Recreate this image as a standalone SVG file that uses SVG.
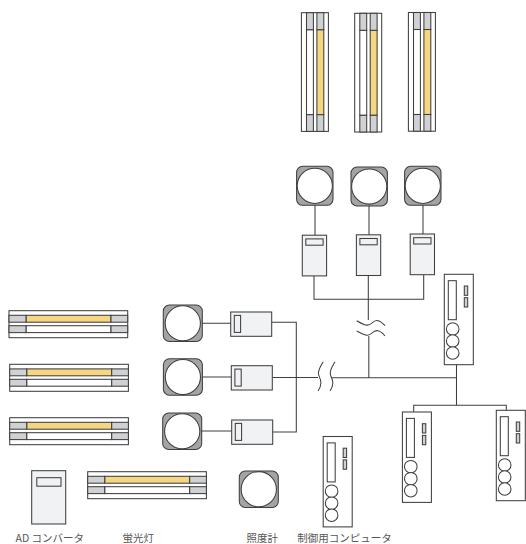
<svg xmlns="http://www.w3.org/2000/svg" width="526" height="544" viewBox="0 0 526 544">
<style>
.s{stroke:#3f3f41;stroke-width:1.05}
.l{fill:none;stroke:#3f3f41;stroke-width:1.05}
.w{fill:#fff}
.y{fill:#f6d680}
.c{fill:#d0d1d3}
.g{fill:#a3a4a6}
.a{fill:#f1f2f4}
text{font-family:"Noto Sans CJK JP","Noto Sans",sans-serif;font-size:10.500px;fill:#555}
</style>
<defs>
<g id="lamp">
<rect class="s w" x="0" y="0" width="118.700" height="27"/>
<rect class="s y" x="17" y="4.600" width="85" height="6.900"/>
<rect class="s c" x="0" y="4.600" width="17" height="6.900"/>
<rect class="s c" x="102" y="4.600" width="16.700" height="6.900"/>
<rect class="s w" x="17" y="15" width="85" height="6.900"/>
<rect class="s c" x="0" y="15" width="17" height="6.900"/>
<rect class="s c" x="102" y="15" width="16.700" height="6.900"/>
</g>
<g id="sensor">
<rect class="s g" x="-19.500" y="-18.200" width="39" height="36.400" rx="6"/>
<circle class="s w" r="17.600"/>
</g>
<g id="adv">
<rect class="s a" x="0" y="0" width="24.300" height="40.700"/>
<rect class="s a" x="3.500" y="3.700" width="17.300" height="6.300"/>
</g>
<g id="adh">
<rect class="s a" x="0" y="0" width="41" height="24.300"/>
<rect class="s a" x="3.600" y="3.400" width="6.300" height="17"/>
</g>
<g id="pc">
<rect class="s w" x="0" y="0" width="29" height="90.400"/>
<rect class="s w" x="4" y="6.400" width="8" height="39"/>
<rect class="s c" x="20" y="11.700" width="3.400" height="9.300"/>
<rect class="s c" x="20" y="23.400" width="3.400" height="9.300"/>
<circle class="s w" cx="8.400" cy="54.700" r="6.300"/>
<circle class="s w" cx="8.400" cy="66.700" r="6.300"/>
<circle class="s w" cx="8.400" cy="78.700" r="6.300"/>
</g>
</defs>
<g id="connectors">
<path class="l" d="M315 203V236M369 204V235M423 203V234"/>
<path class="l" d="M314 275.700V299.300H423.700V274.700M368.300 275.700V320"/>
<path class="l" d="M356.700 320.700C364 325 368 327 372 323S380 320 385 325.700"/>
<path class="l" d="M356.700 331C364 335 368 337 372 333S380 330 385 336"/>
<path class="l" d="M368.800 336V378"/>
<path class="l" d="M201 323.300H231M201 377H231.500M200 431H232"/>
<path class="l" d="M271.700 322.300H296.300V432H272.700"/>
<path class="l" d="M272.300 377.500H318"/>
<path class="l" d="M323.300 361.700C320 367 318 370 318.500 374S324 382 318 391"/>
<path class="l" d="M335 361.700C332 367 329.800 370 330.300 374S336 382 330 391"/>
<path class="l" d="M332 377.700H456.500"/>
<path class="l" d="M456.500 364.700V405.300M413.700 412V405.300H506.300V410.300"/>
</g>
<g id="lamp-v1"><use href="#lamp" transform="translate(328.400 12.700) rotate(90)"/></g>
<g id="lamp-v2"><use href="#lamp" transform="translate(381.700 13.300) rotate(90)"/></g>
<g id="lamp-v3"><use href="#lamp" transform="translate(435.400 12.500) rotate(90)"/></g>
<g id="sensor-v1"><use href="#sensor" transform="translate(314.800 185.800) rotate(90)"/></g>
<g id="sensor-v2"><use href="#sensor" transform="translate(369.200 186.500) rotate(90)"/></g>
<g id="sensor-v3"><use href="#sensor" transform="translate(422.800 185.800) rotate(90)"/></g>
<g id="ad-v1"><use href="#adv" transform="translate(302.300 235.200)"/></g>
<g id="ad-v2"><use href="#adv" transform="translate(356.400 234.800)"/></g>
<g id="ad-v3"><use href="#adv" transform="translate(410.200 234)"/></g>
<g id="lamp-h1"><use href="#lamp" transform="translate(9 310.700)"/></g>
<g id="lamp-h2"><use href="#lamp" transform="translate(9.700 364.300)"/></g>
<g id="lamp-h3"><use href="#lamp" transform="translate(9.700 417.700)"/></g>
<g id="sensor-h1"><use href="#sensor" transform="translate(182.800 323.300)"/></g>
<g id="sensor-h2"><use href="#sensor" transform="translate(182.900 377)"/></g>
<g id="sensor-h3"><use href="#sensor" transform="translate(182.200 431.300)"/></g>
<g id="ad-h1"><use href="#adh" transform="translate(230.700 312)"/></g>
<g id="ad-h2"><use href="#adh" transform="translate(231.300 365.700)"/></g>
<g id="ad-h3"><use href="#adh" transform="translate(231.700 420)"/></g>
<g id="pc-main"><use href="#pc" transform="translate(444.300 274.300)"/></g>
<g id="pc-left"><use href="#pc" transform="translate(402.400 412)"/></g>
<g id="pc-right"><use href="#pc" transform="translate(496.300 410.300)"/></g>
<g id="legend-ad"><rect class="s a" x="31.700" y="470.700" width="34" height="53.300"/><rect class="s a" x="36.800" y="477.700" width="24.200" height="8.500"/><text x="15.500" y="541.500">AD コンバータ</text></g>
<g id="legend-lamp"><use href="#lamp" transform="translate(87.700 471.700)"/><text x="122.500" y="541.500">蛍光灯</text></g>
<g id="legend-sensor"><use href="#sensor" transform="translate(258.800 489.200)"/><text x="246.500" y="541.500">照度計</text></g>
<g id="legend-pc"><use href="#pc" transform="translate(323.200 436.500)"/><text x="297.300" y="541.500">制御用コンピュータ</text></g>
</svg>
